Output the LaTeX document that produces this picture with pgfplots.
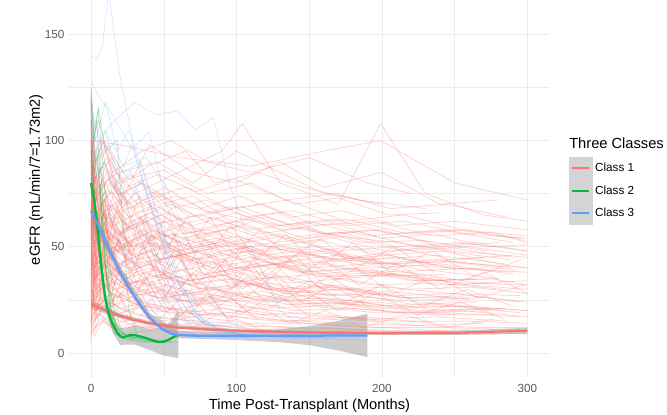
\documentclass[border=0pt]{standalone}
\usepackage{pgfplots}
\pgfplotsset{compat=1.18}
\usepgfplotslibrary{fillbetween}
\usepackage{fontspec}
\setmainfont{Liberation Sans}
\definecolor{c1}{HTML}{F8766D}
\definecolor{c2}{HTML}{00BA38}
\definecolor{c3}{HTML}{619CFF}
\definecolor{keygrey}{HTML}{D4D4D4}
\definecolor{bandgrey}{HTML}{999999}
\definecolor{gridc}{HTML}{EBEBF0}
\definecolor{tickc}{HTML}{5A5A5A}
\pgfplotsset{
  rl/.style={draw=c1, line width=0.6pt, opacity=0.3, forget plot},
  bl/.style={draw=c3, line width=0.5pt, opacity=0.25, forget plot},
  gl/.style={draw=c2, line width=0.5pt, opacity=0.28, forget plot},
  band/.style={fill=bandgrey, opacity=0.5, draw=none, forget plot},
}
\newcommand{\R}[1]{\addplot[rl] coordinates {#1};}
\newcommand{\B}[1]{\addplot[bl] coordinates {#1};}
\newcommand{\G}[1]{\addplot[gl] coordinates {#1};}
\begin{document}
\begin{tikzpicture}
\begin{axis}[
  at={(51.9pt,13.35pt)}, anchor=north west,
  scale only axis, width=360pt, height=296.3pt,
  xmin=-15, xmax=315, ymin=-11.4, ymax=174.5,
  xtick={0,100,200,300}, minor xtick={50,150,250},
  ytick={0,50,100,150}, minor ytick={25,75,125},
  grid=both,
  major grid style={draw=gridc, line width=0.55pt},
  minor grid style={draw=gridc, line width=0.3pt},
  axis line style={draw=none},
  tick style={draw=none},
  /pgf/number format/assume math mode=true,
  ticklabel style={font=\fontsize{8.8}{10}\selectfont, text=tickc},
  xticklabel style={yshift=-2pt},
  xlabel={Time Post-Transplant (Months)},
  ylabel={eGFR (mL/min/7=1.73m2)},
  label style={font=\fontsize{11}{13}\selectfont},
  xlabel style={at={(axis description cs:0.5006,-0.073)}, anchor=center},
  ylabel style={at={(axis description cs:-0.069,0.5)}, anchor=center},
  legend style={at={(axis description cs:1.041,0.5575)}, anchor=north west,
    draw=none, fill=none, inner sep=0pt, outer sep=0pt, row sep=0pt,
    font=\fontsize{8.8}{10}\selectfont, cells={anchor=west}},
  legend cell align=left,
]
% ---------- Class 1 individual trajectories ----------
\R{(0,95)(3,70)(8,82)(15,60)(30,65)(50,55)(80,58)(120,50)(160,45)(200,42)(250,40)(300,38)}
\R{(0,60)(2,45)(10,55)(25,48)(40,52)(70,45)(100,40)(140,35)(180,30)(220,28)(260,25)}
\R{(0,110)(4,80)(12,90)(20,75)(35,80)(60,70)(90,65)(130,60)(170,55)(210,52)(250,48)(300,45)}
\R{(0,40)(3,30)(10,35)(30,28)(60,25)(100,22)(150,18)(200,15)}
\R{(0,75)(5,60)(15,68)(30,55)(50,62)(90,50)(130,55)(180,45)(230,50)(280,42)(300,40)}
\R{(0,20)(2,15)(8,22)(20,18)(45,14)(80,12)(120,10)}
\R{(0,85)(6,65)(20,72)(40,60)(75,65)(110,58)(150,62)(190,55)(240,58)(290,52)}
\R{(0,50)(4,38)(12,45)(25,40)(50,35)(85,38)(120,30)(160,28)(210,25)(260,22)(300,20)}
\R{(0,120)(3,90)(8,100)(20,85)(45,90)(70,80)(100,95)(130,85)(160,75)(200,70)}
\R{(0,30)(5,25)(15,28)(35,22)(70,20)(110,16)(150,14)(200,12)(250,10)}
\R{(0,65)(4,52)(14,60)(28,50)(55,56)(90,48)(125,52)(165,44)(205,46)(245,40)(290,38)}
\R{(0,100)(5,78)(18,85)(35,72)(65,78)(95,68)(135,72)(175,62)(215,65)(255,58)(300,55)}
\R{(0,45)(3,35)(9,42)(22,32)(48,36)(78,30)(115,33)(150,26)(190,24)}
\R{(0,90)(4,72)(16,78)(32,66)(55,70)(85,60)(120,64)(160,56)(200,58)(240,50)(280,52)}
\R{(0,25)(4,18)(12,24)(30,18)(55,16)(95,14)(140,12)(190,11)(240,10)(300,9)}
\R{(0,70)(3,55)(10,62)(24,52)(42,58)(68,50)(100,55)(140,47)(180,50)(225,43)(270,45)}
\R{(0,55)(5,42)(14,50)(30,42)(60,46)(92,38)(130,42)(170,35)(215,37)(260,32)(300,30)}
\R{(0,105)(2,85)(10,95)(22,80)(40,88)(65,95)(85,80)(115,85)(145,78)(185,72)(230,68)}
\R{(0,35)(3,25)(10,32)(25,26)(50,30)(80,24)(120,27)(160,22)(200,20)(250,18)}
\R{(0,80)(5,62)(15,70)(28,58)(48,65)(75,55)(105,60)(140,52)(175,55)(215,48)(260,50)(300,46)}
\R{(0,15)(2,10)(6,18)(15,12)(30,14)(60,10)(100,11)}
\R{(0,60)(3,50)(12,58)(28,46)(45,52)(72,44)(110,48)(150,40)(190,42)(230,36)}
\R{(0,95)(4,75)(12,82)(30,68)(58,74)(82,66)(118,70)(155,60)(195,62)(235,55)(275,57)(300,52)}
\R{(0,48)(2,40)(8,46)(20,36)(40,40)(70,34)(100,38)(135,30)(170,32)(210,27)(250,28)(295,24)}
\R{(0,72)(6,55)(18,64)(38,54)(62,60)(95,52)(130,56)(168,48)(208,50)(248,44)(290,46)}
\R{(0,115)(3,88)(10,98)(25,82)(50,86)(80,75)(110,80)(140,70)(170,73)(205,65)(240,66)}
\R{(0,38)(4,30)(12,36)(28,28)(52,32)(84,26)(118,29)(158,23)(198,24)(240,20)(285,21)}
\R{(0,85)(3,68)(14,76)(26,64)(44,70)(70,60)(100,66)(132,58)(166,61)(200,54)(236,56)(272,50)(300,51)}
\R{(0,58)(4,46)(13,54)(27,44)(46,50)(74,42)(106,46)(142,38)(180,40)(220,34)(265,35)}
\R{(0,28)(3,20)(9,26)(22,20)(42,23)(75,18)(110,20)(148,16)(190,17)(235,14)}
\R{(0,92)(5,74)(14,84)(32,70)(50,78)(76,68)(102,74)(138,64)(172,67)(210,60)(250,62)(300,58)}
\R{(0,66)(2,52)(9,60)(21,50)(38,56)(62,48)(94,53)(126,45)(162,48)(202,42)(246,43)(300,40)}
\R{(0,44)(5,34)(15,40)(33,32)(58,36)(88,30)(124,33)(162,27)(205,28)}
\R{(0,78)(4,60)(12,70)(30,60)(52,66)(80,56)(112,62)(146,54)(184,57)(224,50)(264,52)(300,48)}
\R{(0,22)(3,16)(10,21)(24,15)(48,17)(90,13)(140,12)}
\R{(0,102)(3,82)(11,92)(24,78)(46,84)(72,76)(98,82)(134,72)(168,75)(206,68)(244,70)(286,64)}
\R{(0,52)(4,42)(16,50)(34,40)(56,46)(86,38)(120,43)(156,36)(196,38)(238,32)(282,33)}
\R{(0,62)(3,48)(10,56)(26,50)(44,55)(66,47)(96,51)(130,43)(168,46)(212,40)}
\R{(0,88)(5,70)(13,80)(27,68)(49,74)(73,64)(103,69)(137,60)(176,63)(218,56)(258,58)(298,53)}
\R{(0,34)(2,26)(8,32)(18,26)(36,30)(66,24)(102,27)(144,22)(186,23)(230,19)(274,20)}
\R{(0,70)(10,60)(30,75)(60,85)(90,95)(104,108)(130,80)(170,70)(199,108)(230,75)(270,65)(300,62)}
\R{(0,80)(8,100)(20,70)(40,98)(70,85)(100,80)(130,90)(160,78)(200,85)(240,70)(280,72)}
\R{(0,96)(5,110)(15,85)(35,95)(55,100)(80,90)(110,85)(150,92)(190,80)(220,75)}
\R{(0,30)(4,22)(15,28)(40,20)(80,18)(120,16)(170,14)(220,13)(270,12)(300,12)}
\R{(0,18)(3,12)(12,17)(35,12)(70,14)(110,11)(160,12)(210,10)(260,11)}
\R{(0,42)(6,30)(20,35)(45,26)(80,28)(120,22)(165,24)(210,19)(255,20)(300,17)}
\R{(0,12)(2,8)(8,15)(20,9)(45,11)(85,8)}
\R{(0,68)(4,48)(10,58)(20,40)(35,45)(60,32)(95,35)(135,28)(180,30)(225,25)(270,26)}
\R{(0,108)(2,92)(6,100)(14,78)(28,84)(48,70)(70,74)(96,62)(128,66)(160,56)(195,58)(235,52)}
\R{(0,82)(3,64)(9,72)(18,56)(34,62)(56,50)(86,54)(118,46)(152,49)(192,42)(238,44)(290,40)}
\R{(0,100)(20,98)(60,92)(110,88)(160,95)(199,100)(250,80)(300,72)}
\R{(0,58)(3,44)(10,50)(22,38)(40,42)(65,34)(95,37)(130,30)(170,31)(215,26)(260,27)(300,24)}
\R{(0,46)(4,36)(12,42)(26,33)(48,37)(76,30)(106,33)(140,27)(178,28)(220,23)(265,24)}
\R{(0,76)(3,58)(9,66)(19,52)(36,58)(58,48)(88,52)(120,44)(155,46)(195,40)(240,42)(290,37)}
\R{(0,64)(5,50)(14,56)(30,46)(52,50)(80,42)(112,45)(148,38)(188,40)(230,34)(275,35)(300,32)}
\R{(0,40)(2,32)(7,38)(16,30)(32,34)(56,27)(84,30)(118,24)(156,25)(200,21)(248,22)(295,19)}
\R{(0,86)(4,66)(11,74)(23,60)(41,66)(64,56)(92,60)(126,52)(162,55)(202,48)(244,50)(290,45)}
\R{(0,54)(3,40)(9,48)(21,36)(39,42)(61,33)(89,37)(123,30)(159,32)(199,27)}
\R{(0,32)(2,24)(6,30)(14,22)(28,26)(50,20)(78,23)(112,18)(150,19)(192,16)(238,17)(286,15)}
\R{(0,98)(4,76)(12,86)(25,70)(44,76)(68,64)(96,69)(130,60)(166,63)(206,56)(250,58)(296,54)}
\R{(0,70)(5,54)(13,62)(29,50)(50,56)(78,46)(110,50)(146,42)(186,45)(228,39)(272,40)}
\R{(0,50)(3,36)(8,44)(17,32)(31,38)(53,28)(81,31)(113,25)(149,27)(189,22)(235,23)(285,20)}
\R{(0,62)(2,50)(7,56)(15,46)(29,52)(49,44)(75,48)(105,40)(139,43)(177,36)(219,38)(265,33)(300,34)}
\R{(0,26)(3,20)(9,25)(20,19)(38,22)(64,17)(96,19)(134,15)(176,16)(222,13)(270,14)}
\R{(0,82)(4,62)(10,70)(21,56)(38,62)(60,52)(86,56)(118,48)(154,50)(194,44)(238,46)(284,42)}
\R{(0,44)(2,34)(8,40)(18,30)(34,34)(58,27)(88,30)(124,25)(164,26)(208,22)(256,22)(300,20)}
\R{(0,92)(3,72)(10,80)(20,66)(36,72)(58,60)(84,64)(114,56)(148,59)(186,52)(228,53)(272,48)}
\R{(0,36)(4,28)(11,33)(24,26)(44,29)(72,23)(104,25)(140,20)(180,21)(226,18)(276,18)}
\R{(0,68)(3,52)(8,60)(18,48)(34,54)(56,45)(82,49)(114,41)(150,44)(190,38)(234,39)(280,35)}
\R{(0,56)(4,44)(12,50)(26,40)(46,44)(72,36)(102,40)(136,33)(174,35)(216,30)(262,31)(300,28)}
\R{(0,78)(2,60)(7,68)(15,54)(29,60)(47,50)(71,55)(99,47)(131,50)(167,43)(207,45)(251,40)}
\R{(0,48)(3,38)(10,44)(23,35)(43,39)(69,32)(99,35)(133,29)(171,30)(213,26)(260,26)}
\R{(0,104)(3,80)(9,90)(19,74)(35,80)(55,68)(79,72)(107,64)(139,67)(175,60)(215,62)(259,56)(300,54)}
\R{(0,20)(2,14)(6,19)(14,13)(28,16)(52,12)(84,13)(120,11)(160,11)(205,10)}
\R{(0,74)(4,56)(12,64)(26,52)(44,58)(68,48)(96,52)(128,45)(164,47)(204,42)(246,43)(292,39)}
\R{(0,60)(3,46)(9,52)(19,42)(35,47)(57,38)(85,42)(117,35)(153,37)(193,32)(237,33)(283,30)}
\R{(0,38)(2,28)(7,34)(16,26)(31,30)(53,24)(81,26)(115,21)(153,22)(195,19)(243,19)(295,17)}
\R{(0,88)(5,68)(14,76)(28,62)(48,68)(72,58)(100,62)(134,54)(170,57)(210,50)(254,52)(300,48)}
\R{(0,66)(4,50)(11,58)(23,46)(41,52)(63,43)(91,47)(123,40)(159,42)(199,36)(243,37)}
\R{(0,30)(3,22)(9,28)(20,21)(38,24)(62,19)(92,21)(128,17)(168,17)(212,15)(260,15)(300,14)}
\R{(0,52)(2,40)(6,48)(13,38)(25,44)(43,36)(67,40)(95,33)(127,36)(163,30)(203,31)(247,28)(295,27)}
\R{(0,84)(3,64)(10,72)(22,58)(40,64)(62,54)(90,58)(122,50)(158,53)(198,46)(242,48)(288,44)}
\R{(0,42)(4,32)(12,38)(27,30)(47,33)(75,26)(107,29)(143,23)(183,24)(227,20)(275,21)}
\R{(0,16)(2,11)(7,16)(16,11)(32,13)(58,10)(92,11)(130,9)(175,10)(225,9)(280,9)}
\R{(0,72)(3,56)(8,62)(17,48)(30,54)(48,44)(72,48)(100,40)(132,42)(168,36)(208,37)(252,33)(300,32)}
\R{(0,58)(5,46)(15,52)(33,44)(55,48)(83,40)(115,44)(151,37)(191,39)(233,34)(279,35)}
\R{(0,24)(2,18)(6,23)(13,17)(26,20)(46,15)(74,17)(108,14)(146,14)(190,12)(240,12)(295,11)}
\R{(0,72)(5,50)(9,66)(14,44)(22,58)(30,40)(38,55)(48,36)(58,50)(70,34)(82,46)(96,30)(110,42)(126,28)}
\R{(0,55)(4,30)(8,48)(13,26)(20,40)(28,22)(36,35)(46,20)(56,32)(68,18)(80,28)(94,16)(108,24)}
\R{(0,88)(3,60)(7,78)(12,52)(18,70)(26,48)(34,64)(44,44)(54,60)(66,40)(78,54)(92,38)(106,50)(122,34)(140,46)(160,32)}
\R{(0,40)(3,22)(7,36)(12,18)(18,30)(26,16)(34,26)(44,14)(56,22)(70,12)(86,18)}
\R{(0,64)(4,42)(8,58)(14,36)(20,52)(28,34)(38,48)(50,30)(62,44)(76,28)(90,40)(106,26)(124,36)(144,24)(166,32)(190,22)}
\R{(0,100)(3,70)(6,88)(11,62)(17,80)(25,58)(33,74)(43,54)(55,68)(68,50)(82,64)(98,46)(116,58)(136,44)(158,54)(182,40)(208,50)(236,38)}
\R{(0,48)(4,28)(9,42)(15,24)(23,38)(32,22)(42,34)(54,20)(66,30)(80,18)(96,26)(114,16)}
\R{(0,80)(3,56)(8,72)(13,50)(20,66)(28,46)(37,60)(47,42)(58,56)(70,40)(84,52)(100,36)(118,48)(138,34)(160,44)(184,32)(210,42)(240,30)(270,38)(300,28)}
\R{(0,34)(3,18)(8,30)(14,15)(21,26)(30,14)(40,22)(52,12)(66,20)(82,12)(100,16)(120,10)}
\R{(0,60)(4,36)(9,52)(16,32)(24,46)(33,30)(44,42)(56,26)(70,38)(86,24)(104,34)(124,22)(146,30)(170,20)(196,28)(224,18)(254,24)(284,16)}
\R{(0,94)(3,66)(8,84)(14,58)(22,76)(31,54)(41,70)(53,50)(66,64)(80,46)(96,60)(114,44)(134,56)(156,40)(180,52)(206,38)(234,48)(264,36)(296,44)}
\R{(0,52)(3,34)(7,46)(12,30)(19,42)(27,28)(36,38)(47,24)(59,34)(73,22)(89,30)(107,20)(127,28)(149,18)}
\R{(0,76)(4,52)(9,68)(15,46)(23,62)(32,42)(42,56)(54,40)(67,52)(82,36)(98,48)(116,34)(136,44)(158,30)(182,40)(208,28)(236,36)(266,26)(298,32)}
\R{(0,44)(4,26)(9,38)(16,22)(25,34)(35,20)(47,30)(61,18)(77,26)(95,16)(115,22)(137,14)(161,20)(187,12)(215,18)(245,12)(277,16)}
\R{(0,68)(3,46)(7,60)(12,40)(19,54)(27,38)(36,50)(47,34)(59,46)(72,32)(87,42)(104,30)(122,40)(142,28)(164,36)(188,26)}
\R{(0,58)(4,40)(10,52)(17,36)(26,48)(36,32)(47,44)(60,30)(74,40)(90,28)(108,36)(128,26)(150,34)(174,24)(200,32)(228,22)(258,30)(290,22)}
\R{(0,5)(2,40)(4,20)(8,35)(15,25)(25,30)}
\R{(0,118)(1,70)(3,90)(6,55)(12,65)(20,50)}
\R{(0,50)(1,100)(3,60)(7,75)(12,45)(22,55)}
\R{(0,8)(1,30)(3,15)(6,28)(12,18)}
\R{(0,90)(2,55)(4,75)(9,40)(15,50)(28,42)}
\R{(0,65)(1,20)(3,45)(7,30)(14,38)(26,30)}
\R{(0,110)(2,65)(5,82)(10,50)(18,58)(30,48)}
\R{(0,25)(1,75)(3,40)(6,58)(11,35)(20,42)}
\R{(0,100)(1,40)(4,62)(8,35)(14,48)}
\R{(0,35)(2,88)(4,55)(8,70)(13,45)(24,52)}
\R{(0,122)(1,60)(2,95)(4,30)(6,70)(10,40)}
\R{(0,14)(1,50)(2,25)(4,65)(7,22)(12,35)}
% ---------- Class 3 individual trajectories ----------
\B{(0,140)(4,138)(8,145)(12,170)(20,130)(30,95)(45,60)(60,25)(80,12)(100,10)}
\B{(0,118)(3,95)(10,105)(18,80)(28,98)(40,70)(55,40)(70,18)(90,10)(120,8)(150,9)}
\B{(0,100)(5,85)(15,92)(25,70)(35,82)(48,55)(62,30)(78,14)(100,9)(140,7)(190,8)}
\B{(0,90)(2,75)(8,88)(20,72)(32,60)(44,48)(56,28)(66,15)(90,9)(130,8)}
\B{(0,115)(6,100)(14,108)(30,118)(45,112)(59,114)(72,105)(84,111)(95,80)(110,50)(130,20)(150,10)(180,8)}
\B{(0,80)(3,70)(10,76)(20,55)(30,62)(42,40)(54,22)(68,12)(100,8)}
\B{(0,105)(4,90)(12,98)(22,85)(34,90)(46,65)(58,42)(70,20)(85,12)(120,9)(170,8)}
\B{(0,70)(4,60)(12,66)(22,48)(34,40)(46,25)(58,14)(80,9)(110,7)}
\B{(0,95)(3,82)(9,90)(17,75)(27,86)(38,62)(50,38)(64,18)(80,11)(110,8)(160,7)(190,6)}
\B{(0,125)(3,100)(10,118)(18,95)(26,105)(36,85)(48,60)(60,35)(75,15)(95,9)}
\B{(0,60)(3,50)(9,56)(19,40)(30,32)(42,20)(55,12)(75,8)(100,7)}
\B{(0,110)(5,95)(12,102)(22,88)(38,92)(52,78)(66,55)(80,30)(95,14)(120,9)}
\B{(0,128)(6,120)(15,112)(28,96)(40,104)(52,70)(64,40)(76,16)(100,9)(140,8)}
% ---------- Class 2 individual trajectories ----------
\G{(0,120)(2,100)(4,110)(7,70)(10,40)(14,15)(20,8)(30,6)(45,5)}
\G{(0,95)(2,80)(5,88)(8,55)(12,25)(18,10)(28,7)(40,6)(55,5)}
\G{(0,110)(3,90)(6,95)(9,60)(13,30)(17,12)(25,8)(35,7)}
\G{(0,70)(2,60)(5,65)(8,40)(11,20)(16,9)(26,6)(38,5)(50,6)}
\G{(0,85)(3,75)(6,80)(10,45)(14,20)(20,9)(32,7)(48,6)(60,5)}
\G{(0,125)(2,105)(5,115)(9,80)(12,50)(16,20)(22,9)(30,7)}
\G{(0,60)(3,55)(6,50)(9,30)(13,15)(19,8)(30,6)}
\G{(0,100)(1,85)(4,95)(7,65)(11,35)(15,14)(24,8)(36,6)(52,5)}
\G{(0,90)(5,115)(10,95)(18,100)(22,60)(26,20)(32,8)(45,6)}
% ---------- Class 1 smooth ----------
\addplot[draw=none, name path=r1u, forget plot] coordinates {(0,25)(10,21.5)(20,18.6)(40,14.8)(60,12.7)(100,11.2)(150,10.4)(200,10.1)(250,10.5)(300,11.9)};
\addplot[draw=none, name path=r1l, forget plot] coordinates {(0,21)(10,18.5)(20,16.4)(40,13.2)(60,11.3)(100,9.8)(150,9)(200,8.5)(250,8.5)(300,9.1)};
\addplot[band] fill between[of=r1u and r1l];
\addplot[c1, line width=1.6pt, forget plot] coordinates {(0,23)(10,20)(20,17.5)(30,15.5)(40,14)(50,13)(60,12)(80,11.2)(100,10.5)(130,10)(160,9.6)(200,9.3)(250,9.5)(300,10.5)};
% ---------- Class 2 smooth ----------
\addplot[draw=none, name path=g2u, forget plot] coordinates {(0,86)(5,57)(10,28)(15,17.5)(20,11.8)(25,12)(30,13)(40,11.5)(50,11.8)(55,15.3)(60,19.6)};
\addplot[draw=none, name path=g2l, forget plot] coordinates {(0,74)(5,47)(10,20)(15,9.5)(20,3.8)(25,4)(30,4)(40,1.5)(50,-1.2)(55,-1.7)(60,-2.4)};
\addplot[band] fill between[of=g2u and g2l];
\addplot[c2, line width=1.7pt, forget plot] coordinates {(0,80)(2,73)(4,62)(6,48)(8,35)(10,25)(12,19)(14,15)(16,12)(18,9.5)(20,8)(22,7.3)(24,7.8)(27,8.5)(30,8.4)(34,7.8)(38,7)(42,6)(46,5.2)(50,5.3)(54,6.5)(58,8)(60,8.6)};
% ---------- Class 3 smooth ----------
\addplot[draw=none, name path=b3u, forget plot] coordinates {(0,72)(10,55.5)(20,40.5)(40,19)(60,10)(100,10.1)(130,11.1)(150,12.7)(170,15.2)(190,18.5)};
\addplot[draw=none, name path=b3l, forget plot] coordinates {(0,62)(10,49.5)(20,35.5)(40,15)(60,7)(100,6.1)(130,5.1)(150,3.7)(170,1.2)(190,-1.9)};
\addplot[band] fill between[of=b3u and b3l];
\addplot[c3, line width=1.7pt, forget plot] coordinates {(0,67)(5,60)(10,52.5)(15,45)(20,38)(25,32)(30,26.5)(35,21.5)(40,17)(45,13.5)(50,10.8)(55,9.2)(60,8.5)(70,8.2)(100,8.1)(130,8.1)(160,8.2)(190,8.3)};
% ---------- legend ----------
\addlegendimage{legend image code/.code={\fill[keygrey] (0pt,-8.25pt) rectangle (17.25pt,8.25pt); \draw[c1, line width=1.5pt] (2.25pt,0pt) -- (15pt,0pt);}}
\addlegendentry{Class 1}
\addlegendimage{legend image code/.code={\fill[keygrey] (0pt,-8.25pt) rectangle (17.25pt,8.25pt); \draw[c2, line width=1.5pt] (2.25pt,0pt) -- (15pt,0pt);}}
\addlegendentry{Class 2}
\addlegendimage{legend image code/.code={\fill[keygrey] (0pt,-8.25pt) rectangle (17.25pt,8.25pt); \draw[c3, line width=1.5pt] (2.25pt,0pt) -- (15pt,0pt);}}
\addlegendentry{Class 3}
\end{axis}
\node[anchor=west, inner sep=0pt, font=\fontsize{11}{13}\selectfont] at (426.75pt,-107.25pt) {Three Classes};
\pgfresetboundingbox
\path[use as bounding box] (0pt,0pt) rectangle (500.25pt,-310.5pt);
\end{tikzpicture}
\end{document}
